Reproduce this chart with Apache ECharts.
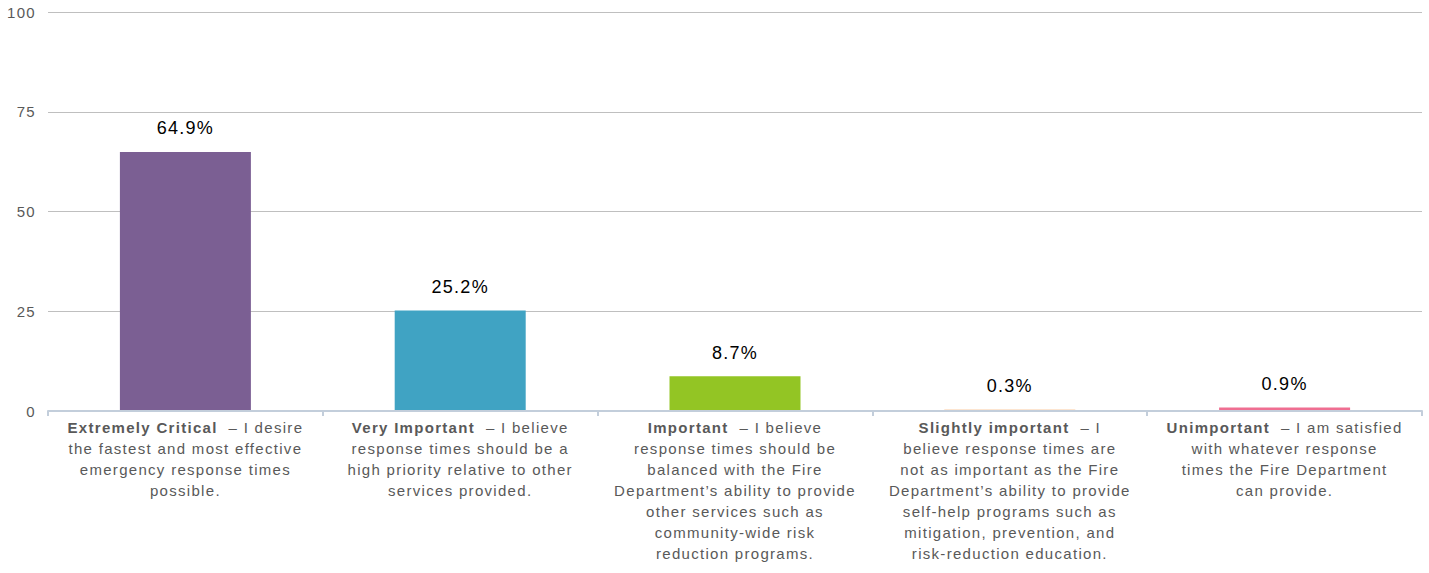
<!DOCTYPE html>
<html>
<head>
<meta charset="utf-8">
<title>Response time expectations</title>
<script src="https://cdn.jsdelivr.net/npm/echarts@6/dist/echarts.min.js"></script>
<style>
  html, body { margin: 0; padding: 0; background: #ffffff; }
  #chart { width: 1429px; height: 573px; }
  /* slightly tracked-out lettering for every label */
  #chart svg text { letter-spacing: 1.3px; }
</style>
</head>
<body>
<div id="chart"></div>
<script>
// Survey answers: how important are fire department response times
const categories = ['Extremely Critical', 'Very Important', 'Important', 'Slightly important', 'Unimportant'];

// Explanatory text under each answer; the first entry continues the bold heading's line
const descriptions = [
  ['– I desire', 'the fastest and most effective', 'emergency response times', 'possible.'],
  ['– I believe', 'response times should be a', 'high priority relative to other', 'services provided.'],
  ['– I believe', 'response times should be', 'balanced with the Fire', 'Department\u2019s ability to provide', 'other services such as', 'community-wide risk', 'reduction programs.'],
  ['– I', 'believe response times are', 'not as important as the Fire', 'Department\u2019s ability to provide', 'self-help programs such as', 'mitigation, prevention, and', 'risk-reduction education.'],
  ['– I am satisfied', 'with whatever response', 'times the Fire Department', 'can provide.']
];

// Share of respondents, percent
const shares = [64.9, 25.2, 8.7, 0.3, 0.9];

const barColors = ['#7B5F93', '#40A3C3', '#93C524', '#F79646', '#EF6E91'];

const yTicks = [0, 25, 50, 75, 100];

const FONT = '"Liberation Sans", Arial, Helvetica, sans-serif';
const TRACK = 1.3; // px of letter spacing applied by the stylesheet

// keep text layout in step with the tracked lettering
const measureCtx = document.createElement('canvas').getContext('2d');
if (echarts.setPlatformAPI) {
  echarts.setPlatformAPI({
    measureText: function (text, font) {
      measureCtx.font = font || '12px sans-serif';
      const m = measureCtx.measureText(text || '');
      return {
        width: m.width + (text ? text.length : 0) * TRACK,
        actualBoundingBoxAscent: m.actualBoundingBoxAscent,
        actualBoundingBoxDescent: m.actualBoundingBoxDescent,
        actualBoundingBoxLeft: m.actualBoundingBoxLeft,
        actualBoundingBoxRight: m.actualBoundingBoxRight
      };
    }
  });
}

const chart = echarts.init(document.getElementById('chart'), null, { renderer: 'svg', width: 1429, height: 573 });

chart.setOption({
  animation: false,
  backgroundColor: '#ffffff',
  grid: { left: 48, right: 7, top: 12, bottom: 162, containLabel: false },
  xAxis: {
    type: 'category',
    data: categories,
    z: 3,
    boundaryGap: true,
    axisLine: { show: true, lineStyle: { color: '#C3CEDB', width: 2 } },
    axisTick: { show: true, length: 5, lineStyle: { color: '#C3CEDB', width: 2 } },
    axisLabel: {
      interval: 0,
      margin: 6,
      color: '#595959',
      fontFamily: FONT,
      fontSize: 15,
      lineHeight: 21,
      formatter: function (value, index) {
        return '{b|' + value + '}  ' + descriptions[index].join('\n');
      },
      rich: {
        b: { fontWeight: 'bold', fontFamily: FONT, fontSize: 15, lineHeight: 21, color: '#595959' }
      }
    }
  },
  yAxis: {
    type: 'value',
    min: yTicks[0],
    max: yTicks[yTicks.length - 1],
    interval: 25,
    axisLine: { show: false },
    axisTick: { show: false },
    splitLine: { show: true, lineStyle: { color: '#BFBFBF', width: 1 } },
    axisLabel: { margin: 12, color: '#595959', fontFamily: FONT, fontSize: 15 }
  },
  series: [{
    type: 'bar',
    data: shares.map(function (v, i) {
      return { value: v, itemStyle: { color: barColors[i] } };
    }),
    barWidth: 131,
    label: {
      show: true,
      position: 'top',
      distance: 14,
      color: '#000000',
      fontFamily: FONT,
      fontSize: 18,
      formatter: function (p) { return p.value.toFixed(1) + '%'; }
    }
  }]
});
</script>
</body>
</html>
